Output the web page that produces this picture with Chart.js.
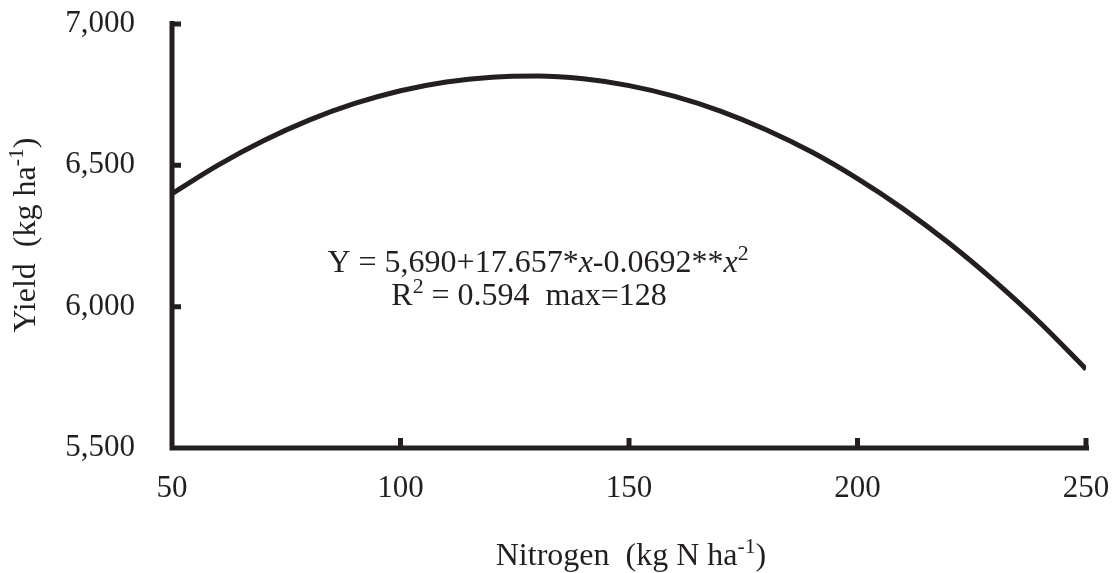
<!DOCTYPE html>
<html>
<head>
<meta charset="utf-8">
<script src="https://cdn.jsdelivr.net/npm/chart.js@4.4.1/dist/chart.umd.min.js"></script>
<style>
  html, body { margin: 0; padding: 0; background: #fff; }
  #wrap { width: 1120px; height: 573px; }
</style>
</head>
<body>
<div id="wrap"><canvas id="yieldChart" width="1120" height="573"></canvas></div>
<script>
// nitrogen rate (kg N/ha) and fitted yield (kg/ha)
const nitrogen = [50, 60, 70, 80, 90, 100, 110, 120, 130, 140, 150, 160, 170, 180, 190, 200, 210, 220, 230, 240, 250];
const yieldKg = [6400, 6500, 6587, 6660, 6719, 6764, 6795, 6812, 6816, 6806, 6782, 6744, 6692, 6626, 6547, 6453, 6346, 6225, 6090, 5942, 5779];
const xTicks = [50, 100, 150, 200, 250];
const yTicks = [5500, 6000, 6500, 7000];

const INK = '#231f20';
const FONT = '"Liberation Serif", "Times New Roman", serif';

// draws a run of text pieces; pieces flagged sup are raised and smaller
function drawRich(ctx, parts, x, y, size, align) {
    const widths = parts.map(p => {
        ctx.font = (p.it ? 'italic ' : '') + (p.sup ? size * 0.68 : size) + 'px ' + FONT;
        return ctx.measureText(p.t).width;
    });
    const total = widths.reduce((a, b) => a + b, 0);
    let cx = align === 'center' ? x - total / 2 : x;
    ctx.textBaseline = 'alphabetic';
    ctx.textAlign = 'left';
    parts.forEach((p, i) => {
        ctx.font = (p.it ? 'italic ' : '') + (p.sup ? size * 0.68 : size) + 'px ' + FONT;
        ctx.fillText(p.t, cx, p.sup ? y - size * 0.36 : y);
        cx += widths[i];
    });
}

const axesPlugin = {
    id: 'axesPlugin',
    afterDraw(chart) {
        const ctx = chart.ctx;
        const xs = chart.scales.x, ys = chart.scales.y;
        const x0 = xs.getPixelForValue(50), x1 = xs.getPixelForValue(250);
        const y0 = ys.getPixelForValue(5500), y1 = ys.getPixelForValue(7000);
        ctx.save();
        ctx.strokeStyle = INK;
        ctx.lineWidth = 5;
        ctx.lineCap = 'butt';
        ctx.beginPath();
        ctx.moveTo(x0, y1 - 3);
        ctx.lineTo(x0, y0 + 2.5);
        ctx.moveTo(x0 - 2.5, y0);
        ctx.lineTo(x1 + 3, y0);
        ctx.stroke();
        // inward ticks
        ctx.beginPath();
        yTicks.slice(1).forEach(v => {
            const py = ys.getPixelForValue(v);
            ctx.moveTo(x0, py);
            ctx.lineTo(x0 + 9, py);
        });
        xTicks.slice(1).forEach(v => {
            const px = xs.getPixelForValue(v);
            ctx.moveTo(px, y0);
            ctx.lineTo(px, y0 - 10);
        });
        ctx.stroke();

        ctx.fillStyle = INK;
        // regression equation
        drawRich(ctx, [
            { t: 'Y = 5,690+17.657*' }, { t: 'x', it: true }, { t: '-0.0692**' },
            { t: 'x', it: true }, { t: '2', sup: true }
        ], 538, 272, 32, 'center');
        drawRich(ctx, [
            { t: 'R' }, { t: '2', sup: true }, { t: ' = 0.594  max=128' }
        ], 529, 305, 32, 'center');

        // axis titles
        drawRich(ctx, [
            { t: 'Nitrogen  (kg N ha' }, { t: '-1', sup: true }, { t: ')' }
        ], 631, 565, 32, 'center');
        ctx.translate(35, 235);
        ctx.rotate(-Math.PI / 2);
        drawRich(ctx, [
            { t: 'Yield  (kg ha' }, { t: '-1', sup: true }, { t: ')' }
        ], 0, 0, 32, 'center');
        ctx.restore();
    }
};

new Chart(document.getElementById('yieldChart').getContext('2d'), {
    type: 'line',
    data: {
        datasets: [{
            data: nitrogen.map((n, i) => ({ x: n, y: yieldKg[i] })),
            borderColor: INK,
            borderWidth: 5,
            pointRadius: 0,
            cubicInterpolationMode: 'monotone',
            fill: false
        }]
    },
    options: {
        responsive: false,
        animation: false,
        layout: { padding: { left: 0, top: 24, right: 34, bottom: 0 } },
        plugins: { legend: { display: false }, tooltip: { enabled: false } },
        scales: {
            x: {
                type: 'linear',
                min: 50,
                max: 250,
                afterBuildTicks: s => { s.ticks = xTicks.map(v => ({ value: v })); },
                afterFit: s => { s.height = 125; s.paddingLeft = 0; s.paddingRight = 0; },
                grid: { display: false },
                border: { display: false },
                ticks: {
                    padding: 14,
                    color: INK,
                    font: { family: FONT, size: 31 },
                    maxRotation: 0,
                    callback: v => v.toString()
                }
            },
            y: {
                min: 5500,
                max: 7000,
                afterBuildTicks: s => { s.ticks = yTicks.map(v => ({ value: v })); },
                afterFit: s => { s.width = 172; s.paddingTop = 0; s.paddingBottom = 0; },
                grid: { display: false },
                border: { display: false },
                ticks: {
                    padding: 29,
                    color: INK,
                    font: { family: FONT, size: 31 },
                    callback: v => v.toLocaleString('en-US')
                }
            }
        }
    },
    plugins: [axesPlugin]
});
</script>
</body>
</html>
